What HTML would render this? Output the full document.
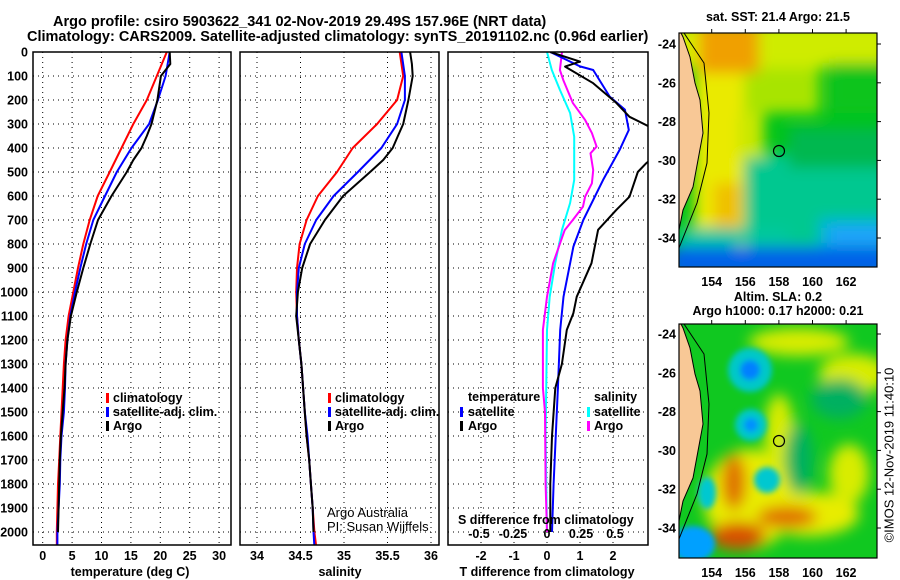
<!DOCTYPE html>
<html><head><meta charset="utf-8"><style>
html,body{margin:0;padding:0;background:#fff;}
svg{display:block;font-family:"Liberation Sans",Arial,sans-serif;}
.b{font-weight:bold;font-size:12.5px;}
.t{font-weight:bold;font-size:14.5px;}
</style></head><body>
<svg id="svg" width="900" height="580" viewBox="0 0 900 580">
<defs>
<clipPath id="c1"><rect x="33" y="52" width="198" height="493"/></clipPath>
<clipPath id="c2"><rect x="240" y="52" width="199" height="493"/></clipPath>
<clipPath id="c3"><rect x="448" y="52" width="200" height="493"/></clipPath>
<clipPath id="m1"><rect x="0" y="0" width="198" height="234"/></clipPath>
<filter id="bl" x="-50%" y="-50%" width="200%" height="200%"><feGaussianBlur stdDeviation="7"/></filter>
<filter id="bs" x="-50%" y="-50%" width="200%" height="200%"><feGaussianBlur stdDeviation="3"/></filter>
</defs>
<text class="t" x="53" y="26">Argo profile: csiro 5903622_341 02-Nov-2019 29.49S 157.96E (NRT data)</text>
<text class="t" x="27" y="41">Climatology: CARS2009. Satellite-adjusted climatology: synTS_20191102.nc (0.96d earlier)</text>
<g id="grid"></g>
<g id="series"></g>
<rect x="33" y="52" width="198" height="493" fill="none" stroke="#000" stroke-width="1.5"/>
<rect x="240" y="52" width="199" height="493" fill="none" stroke="#000" stroke-width="1.5"/>
<rect x="448" y="52" width="200" height="493" fill="none" stroke="#000" stroke-width="1.5"/>
<g id="labels"></g>
<g class="b">
<rect x="106" y="393" width="3" height="10" fill="#f00"/><text x="113" y="402">climatology</text>
<rect x="106" y="407" width="3" height="10" fill="#00f"/><text x="113" y="416">satellite-adj. clim.</text>
<rect x="106" y="421" width="3" height="10" fill="#000"/><text x="113" y="430">Argo</text>
</g>
<g class="b">
<rect x="328" y="393" width="3" height="10" fill="#f00"/><text x="335" y="402">climatology</text>
<rect x="328" y="407" width="3" height="10" fill="#00f"/><text x="335" y="416">satellite-adj. clim.</text>
<rect x="328" y="421" width="3" height="10" fill="#000"/><text x="335" y="430">Argo</text>
</g>
<text x="327" y="517" font-size="13">Argo Australia</text>
<text x="327" y="531" font-size="13">PI: Susan Wijffels</text>
<g class="b">
<text x="468" y="401">temperature</text>
<rect x="460" y="407" width="3" height="10" fill="#00f"/><text x="468" y="416">satellite</text>
<rect x="460" y="421" width="3" height="10" fill="#000"/><text x="468" y="430">Argo</text>
<text x="594" y="401">salinity</text>
<rect x="587" y="407" width="3" height="10" fill="#0ff"/><text x="594" y="416">satellite</text>
<rect x="587" y="421" width="3" height="10" fill="#f0f"/><text x="594" y="430">Argo</text>
</g>
<text class="b" x="458" y="524">S difference from climatology</text>
<g id="sticks" class="b" text-anchor="middle"></g>
<text class="b" x="130" y="576" text-anchor="middle">temperature (deg C)</text>
<text class="b" x="340" y="576" text-anchor="middle">salinity</text>
<text class="b" x="547" y="576" text-anchor="middle">T difference from climatology</text>

<text class="b" x="778" y="21" text-anchor="middle">sat. SST: 21.4 Argo: 21.5</text>
<g transform="translate(679,33)">
<g clip-path="url(#m1)">
<rect width="198" height="234" fill="#00c41c"/>
<g filter="url(#bl)">
<rect x="60" y="120" width="150" height="100" fill="#00c890"/>
<rect x="110" y="95" width="100" height="40" fill="#00b850"/>
<rect x="140" y="185" width="70" height="35" fill="#00b4d8"/>
<rect x="-10" y="-10" width="220" height="45" fill="#cfec00"/>
<rect x="60" y="35" width="80" height="45" fill="#a8e400"/>
<rect x="150" y="30" width="60" height="50" fill="#10c41c"/>
<rect x="15" y="0" width="50" height="215" fill="#eaea00"/>
<rect x="60" y="80" width="25" height="45" fill="#c8e800"/>
<rect x="20" y="-10" width="60" height="50" fill="#f0a000"/>
<rect x="35" y="150" width="28" height="45" fill="#f0c000"/>
<rect x="0" y="195" width="60" height="20" fill="#00c8a0"/>
<rect x="-10" y="214" width="220" height="30" fill="#0060e8"/>
<rect x="30" y="196" width="80" height="14" fill="#00c8a0"/>
<rect x="150" y="195" width="60" height="15" fill="#20a0ff"/>
</g>
<polygon points="0,0 2,0 4,4 11,24 16,50 21,67 24,100 19,127 14,154 4,177 0,197" fill="#f8c896" stroke="#000" stroke-width="1"/>
<polyline points="5,0 25,30 30,80 28,130 18,170 0,215" fill="none" stroke="#000" stroke-width="1"/>
</g>
<circle cx="100" cy="118" r="5.5" fill="none" stroke="#000" stroke-width="1.2"/>
<rect width="198" height="234" fill="none" stroke="#000" stroke-width="1.2"/>
</g>
<text class="b" x="778" y="301" text-anchor="middle">Altim. SLA: 0.2</text>
<text class="b" x="778" y="315" text-anchor="middle">Argo h1000: 0.17 h2000: 0.21</text>
<g transform="translate(679,324)">
<g clip-path="url(#m1)">
<rect width="198" height="234" fill="#10c820"/>
<g filter="url(#bl)">
<ellipse cx="70" cy="175" rx="45" ry="50" fill="#e8ec00"/>
<ellipse cx="130" cy="190" rx="50" ry="22" fill="#e8ec00"/>
<ellipse cx="120" cy="18" rx="50" ry="14" fill="#d8ec00"/>
<ellipse cx="175" cy="50" rx="35" ry="20" fill="#d8ec00"/>
<ellipse cx="170" cy="150" rx="20" ry="30" fill="#d8ec00"/>
<ellipse cx="100" cy="110" rx="15" ry="40" fill="#d8ec00"/>
<ellipse cx="160" cy="75" rx="28" ry="20" fill="#00b060"/>
<ellipse cx="120" cy="135" rx="14" ry="35" fill="#00b060"/>
<ellipse cx="55" cy="158" rx="12" ry="28" fill="#e07000"/>
<ellipse cx="59" cy="212" rx="28" ry="14" fill="#d85000"/>
<ellipse cx="108" cy="193" rx="30" ry="11" fill="#e07000"/>
</g>
<g filter="url(#bs)">
<circle cx="71" cy="46" r="22" fill="#00c8c8"/><circle cx="71" cy="46" r="10" fill="#0080ff"/>
<circle cx="72" cy="101" r="16" fill="#00c8c8"/><circle cx="72" cy="101" r="7" fill="#0090ff"/>
<circle cx="88" cy="156" r="13" fill="#00c8d0"/>
<ellipse cx="28" cy="169" rx="9" ry="16" fill="#00c8d0"/>
<ellipse cx="14" cy="220" rx="22" ry="18" fill="#00a0ff"/>
</g>
<polygon points="0,0 2,0 4,4 11,24 16,50 21,67 24,100 19,127 14,154 4,177 0,197" fill="#f8c896" stroke="#000" stroke-width="1"/>
<polyline points="5,0 25,30 30,80 28,130 18,170 0,215" fill="none" stroke="#000" stroke-width="1"/>
</g>
<circle cx="100" cy="117" r="5.5" fill="none" stroke="#000" stroke-width="1.2"/>
<rect width="198" height="234" fill="none" stroke="#000" stroke-width="1.2"/>
</g>
<g id="maplabels" class="b"></g>
<text x="890" y="455" font-size="13" text-anchor="middle" transform="rotate(-90 890 455)" dominant-baseline="middle">©IMOS 12-Nov-2019 11:40:10</text>
</svg>
<script>
const depths = [0,100,200,300,400,500,600,700,800,900,1000,1100,1200,1300,1400,1500,1600,1700,1800,1900,2000,2060];
const tempClim = [21.1,19.4,17.7,15.4,13.4,11.4,9.35,8.0,6.9,6.0,5.2,4.4,3.9,3.6,3.4,3.2,3.0,2.8,2.6,2.5,2.4,2.4];
const tempSat  = [21.6,20.9,19.6,18.1,15.1,12.6,10.6,8.6,7.4,6.4,5.5,4.7,4.2,3.9,3.8,3.6,3.2,3.0,2.9,2.7,2.5,2.5];
const argoDepths = [0,50,100,200,300,350,400,450,500,600,700,800,900,1000,1100,1200,1300,1400,1500,1600,1700,1800,1900,2000];
const tempArgo = [21.6,21.7,20.1,19.5,18.5,17.7,16.8,15.4,14.3,11.7,9.4,8.1,6.9,5.8,4.8,4.2,3.9,3.7,3.4,3.1,2.9,2.8,2.7,2.6];
const salClim = [35.64,35.68,35.61,35.38,35.10,34.92,34.70,34.57,34.49,34.46,34.45,34.46,34.48,34.51,34.53,34.55,34.57,34.60,34.62,34.64,34.66,34.68];
const salSat  = [35.66,35.70,35.70,35.61,35.43,35.16,34.88,34.68,34.55,34.48,34.46,34.46,34.48,34.51,34.53,34.55,34.58,34.60,34.62,34.64,34.65,34.66];
const salArgo = [35.76,35.78,35.79,35.74,35.68,35.62,35.56,35.45,35.30,34.99,34.78,34.61,34.52,34.47,34.45,34.48,34.51,34.53,34.55,34.57,34.60,34.62,34.64,34.65];
const diffDepthsA = [0,60,75,186,240,325,408,533,700,811,1020,1158,1400,1800,2000];
const tDiffSat = [0.1,1.0,1.4,1.9,2.36,2.48,2.2,1.7,1.1,0.8,0.5,0.4,0.33,0.2,0.15];
const diffDepthsB = [0,40,61,130,212,270,311,360,420,464,500,603,658,741,880,1020,1088,1158,1300,1400,1600,1800,2000];
const tDiffArgo = [0.1,1.0,0.55,1.4,2.1,2.5,3.1,3.5,3.4,3.0,2.75,2.5,2.1,1.55,1.35,0.9,0.8,0.6,0.45,0.25,0.15,0.1,0.1];
const diffDepthsC = [0,75,158,254,353,533,629,741,880,1020,1158,1600,2000];
const sDiffSat = [0,0.035,0.095,0.17,0.2,0.2,0.17,0.11,0.06,0.02,0,-0.01,0];
const diffDepthsD = [0,75,117,212,283,338,394,422,492,547,603,644,700,742,880,1020,1158,1400,1500,1800,2000];
const sDiffArgo = [0.11,0.095,0.12,0.19,0.28,0.33,0.365,0.32,0.34,0.33,0.28,0.265,0.19,0.13,0.045,0,-0.03,-0.03,-0.015,-0.01,0];
const depthTicks = [0,100,200,300,400,500,600,700,800,900,1000,1100,1200,1300,1400,1500,1600,1700,1800,1900,2000];
const tempTicks = [0,5,10,15,20,25,30];
const salTicks = [34,34.5,35,35.5,36];
const salTickLabels = ["34","34.5","35","35.5","36"];
const tDiffTicks = [-2,-1,0,1,2];
const sDiffTicks = [-0.5,-0.25,0,0.25,0.5];
const sDiffTickLabels = ["-0.5","-0.25","0","0.25","0.5"];
const lonTicks = [154,156,158,160,162];
const latTicks = [-24,-26,-28,-30,-32,-34];

const yD = d => 52 + d*0.24;
const xT = t => 42.7 + t*5.88;
const xS = s => 257 + (s-34)*87;
const xdT = t => 547 + 33*t;
const xdS = s => 547 + 136*s;
const lonX = lo => 711.7 + (lo-154)*16.8;
const latY = (la, top) => top + (-24-la)*19.4;

const NS = "http://www.w3.org/2000/svg";
function mk(tag, parent, attrs){const e=document.createElementNS(NS,tag);for(const k in attrs)e.setAttribute(k,attrs[k]);parent.appendChild(e);return e;}
const grid=document.getElementById('grid'), series=document.getElementById('series'), labels=document.getElementById('labels');
const dot={stroke:"#000","stroke-width":1,"stroke-dasharray":"1,4"};
[[33,231],[240,439],[448,648]].forEach(function(p){
  depthTicks.slice(1).forEach(function(d){
    const l=mk('line',grid,Object.assign({x1:p[0],x2:p[1],y1:yD(d),y2:yD(d)},dot));
    
    
  });
});
function vgrid(ticks,fx){ticks.forEach(function(t){
  const l=mk('line',grid,Object.assign({x1:fx(t),x2:fx(t),y1:52,y2:545},dot));
  
  
});}
vgrid(tempTicks,xT); vgrid(salTicks,xS); vgrid(tDiffTicks,xdT);
depthTicks.forEach(function(d){
  const t=mk('text',labels,{x:28,y:yD(d)+4.5,'text-anchor':'end','class':'b'});
  t.textContent=d;
  
  
});
function xlabels(ticks,txt,fx){ticks.forEach(function(v,i){
  const t=mk('text',labels,{x:fx(v),y:560,'text-anchor':'middle','class':'b'});
  t.textContent=txt[i];
  
  
});}
xlabels(tempTicks,tempTicks.map(String),xT);
xlabels(salTicks,salTickLabels,xS);
xlabels(tDiffTicks,tDiffTicks.map(String),xdT);
const st=document.getElementById('sticks');
sDiffTicks.forEach(function(v,i){
  const t=mk('text',st,{x:xdS(v),y:538});
  t.textContent=sDiffTickLabels[i];
  
  
});
function line(ds,vs,fx,color,clip,name){
  const pts=ds.map(function(d,i){return fx(vs[i]).toFixed(1)+','+yD(d).toFixed(1);}).join(' ');
  const p=mk('polyline',series,{points:pts,fill:'none',stroke:color,'stroke-width':2,'clip-path':'url(#'+clip+')','stroke-linejoin':'round'});
  
  
}
line(depths,tempClim,xT,'#f00','c1','temperature-climatology-line');
line(depths,tempSat,xT,'#00f','c1','temperature-satellite-line');
line(argoDepths,tempArgo,xT,'#000','c1','temperature-argo-line');
line(depths,salClim,xS,'#f00','c2','salinity-climatology-line');
line(depths,salSat,xS,'#00f','c2','salinity-satellite-line');
line(argoDepths,salArgo,xS,'#000','c2','salinity-argo-line');
line(diffDepthsC,sDiffSat,xdS,'#0ff','c3','salinity-diff-satellite-line');
line(diffDepthsD,sDiffArgo,xdS,'#f0f','c3','salinity-diff-argo-line');
line(diffDepthsA,tDiffSat,xdT,'#00f','c3','temperature-diff-satellite-line');
line(diffDepthsB,tDiffArgo,xdT,'#000','c3','temperature-diff-argo-line');
const ml=document.getElementById('maplabels');
[[33,267,44],[324,558,334]].forEach(function(m){
  lonTicks.forEach(function(lo){
    const t=mk('text',ml,{x:lonX(lo),y:m[1]+19,'text-anchor':'middle'});
    t.textContent=lo;
    
    
    mk('line',ml,{x1:lonX(lo),x2:lonX(lo),y1:m[0]-4,y2:m[0],stroke:'#000'});
  });
  latTicks.forEach(function(la){
    const y=latY(la,m[2]);
    const t=mk('text',ml,{x:676,y:y+4.5,'text-anchor':'end'});
    t.textContent=la;
    
    
    mk('line',ml,{x1:877,x2:881,y1:y,y2:y,stroke:'#000'});
  });
});
</script>
</body></html>
